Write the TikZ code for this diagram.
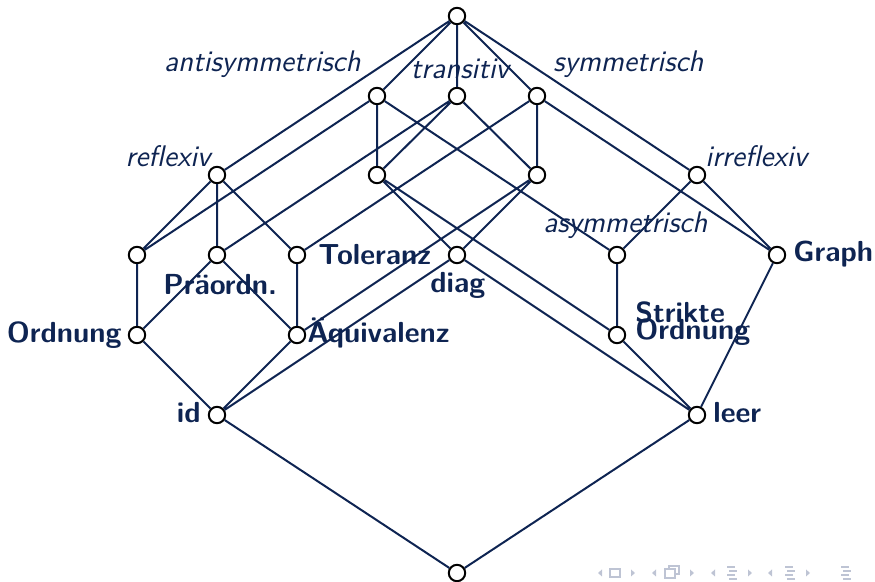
\documentclass[tikz,border=0pt]{standalone}
\usepackage{fontspec}
\usepackage{tikz}
\definecolor{navy}{RGB}{14,36,82}
\definecolor{navgray}{RGB}{190,196,212}

\begin{document}
\begin{tikzpicture}[
    x=0.5pt, y=-0.5pt,
    vertex/.style={circle, draw=black, fill=white, line width=1pt,
      inner sep=0pt, minimum size=8.2pt},
    prop/.style={font=\sffamily\itshape\fontsize{14.9}{16}\selectfont,
      text=navy, inner sep=0pt},
    cls/.style={font=\sffamily\bfseries\fontsize{14.5}{16}\selectfont,
      text=navy, inner sep=0pt},
    hasse/.style={draw=navy, line width=1pt},
  ]
  \useasboundingbox (0,0) rectangle (875,582);

  % vertices, row by row
  \node[vertex] (top)      at (457,16)  {};
  \node[vertex] (anti)     at (377,96)  {};
  \node[vertex] (trans)    at (457,96)  {};
  \node[vertex] (sym)      at (537,96)  {};
  \node[vertex] (refl)     at (217,175) {};
  \node[vertex] (antitr)   at (377,175) {};
  \node[vertex] (symtr)    at (537,175) {};
  \node[vertex] (irr)      at (697,175) {};
  \node[vertex] (reflanti) at (137,255) {};
  \node[vertex] (praeord)  at (217,255) {};
  \node[vertex] (toler)    at (297,255) {};
  \node[vertex] (diag)     at (457,255) {};
  \node[vertex] (asym)     at (617,255) {};
  \node[vertex] (graph)    at (777,255) {};
  \node[vertex] (ordn)     at (137,335) {};
  \node[vertex] (aequi)    at (297,335) {};
  \node[vertex] (strikt)   at (617,335) {};
  \node[vertex] (ident)    at (217,415) {};
  \node[vertex] (leer)     at (697,415) {};
  \node[vertex] (bot)      at (457,573) {};

  \draw[hasse]
    (top) -- (refl)  (top) -- (anti)  (top) -- (trans)
    (top) -- (sym)   (top) -- (irr)
    (anti) -- (reflanti)  (anti) -- (antitr)  (anti) -- (asym)
    (trans) -- (praeord)  (trans) -- (antitr) (trans) -- (symtr)
    (sym) -- (toler)  (sym) -- (symtr)  (sym) -- (graph)
    (refl) -- (reflanti)  (refl) -- (praeord)  (refl) -- (toler)
    (antitr) -- (diag)  (antitr) -- (strikt)
    (symtr) -- (diag)   (symtr) -- (aequi)
    (irr) -- (asym)  (irr) -- (graph)
    (reflanti) -- (ordn)
    (praeord) -- (ordn)  (praeord) -- (aequi)
    (toler) -- (aequi)
    (diag) -- (ident)  (diag) -- (leer)
    (asym) -- (strikt)
    (graph) -- (leer)
    (ordn) -- (ident)  (aequi) -- (ident)
    (strikt) -- (leer)
    (ident) -- (bot)  (leer) -- (bot);

  % properties
  \node[prop, anchor=base east] (lanti)  at (361,72)  {antisymmetrisch};
  \node[prop, anchor=base]      (ltrans) at (460,79)  {transitiv};
  \node[prop, anchor=base west] (lsym)   at (553,72)  {symmetrisch};
  \node[prop, anchor=base east] (lrefl)  at (211,167) {reflexiv};
  \node[prop, anchor=base west] (lirr)   at (705,167) {irreflexiv};
  \node[prop, anchor=base west] (lasym)  at (543,233) {asymmetrisch};

  % classes
  \node[cls, anchor=base west] (ltoler)   at (318,265) {Toleranz};
  \node[cls, anchor=base west] (lpraeord) at (163,295) {Präordn.};
  \node[cls, anchor=base west] (ldiag)    at (430,293) {diag};
  \node[cls, anchor=base west] (lgraph)   at (793,262) {Graph};
  \node[cls, anchor=base east] (lordn)    at (122,343) {Ordnung};
  \node[cls, anchor=base west] (laequi)   at (307,343) {Äquivalenz};
  \node[cls, anchor=base west] (lstrikt)  at (635,323) {Strikte};
  \node[cls, anchor=base west] (lstrordn) at (635,340) {Ordnung};
  \node[cls, anchor=base east] (lident)   at (201,423) {id};
  \node[cls, anchor=base west] (lleer)    at (713,423) {leer};

  % navigation symbols
  \begin{scope}[navgray, line width=0.6pt]
    \foreach \x in {598,652,711,768}
      \fill (\x,573) -- ++(4,-3.5) -- ++(0,7) -- cycle;
    \foreach \x in {631,690,748,806}
      \fill (\x+4,573) -- ++(-4,-3.5) -- ++(0,7) -- cycle;
    \draw (610,569) rectangle (620,577);
    \draw (669,566) rectangle (679,574);
    \draw[fill=white] (665,569) rectangle (675,578);
    \foreach \x in {727,785,841}
      \draw (\x,567) -- ++(8,0) (\x+2,571) -- ++(8,0)
            (\x,575) -- ++(8,0) (\x+2,579) -- ++(8,0);
  \end{scope}
\end{tikzpicture}
\end{document}
